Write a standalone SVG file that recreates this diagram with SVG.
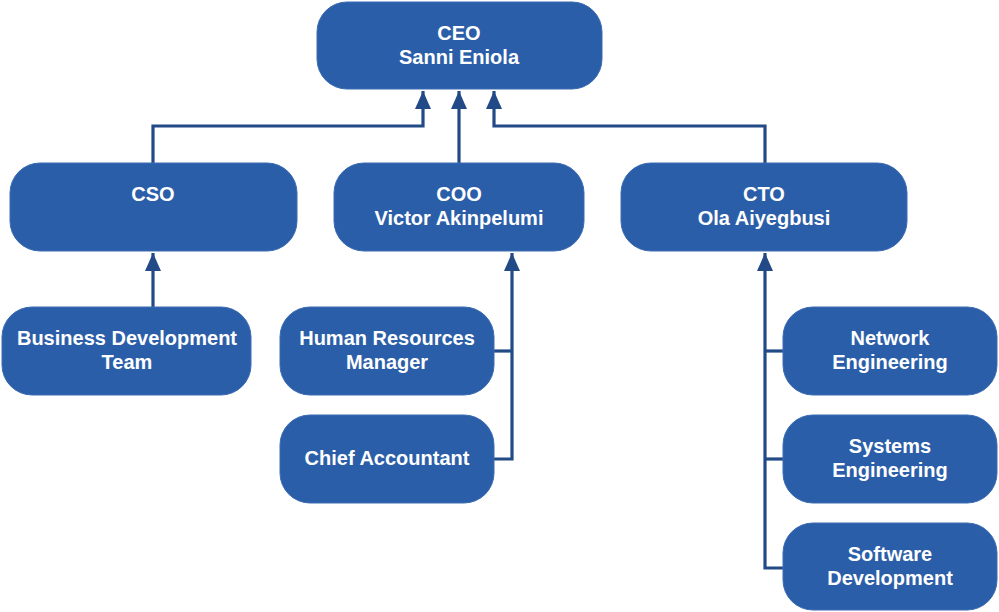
<svg xmlns="http://www.w3.org/2000/svg" width="999" height="612" viewBox="0 0 999 612">
<defs>
<style>
.node rect{fill:#2b5ea8;stroke:#3a6cb2;stroke-width:1}
.node text{fill:#ffffff;font-family:"Liberation Sans",Arial,sans-serif;font-weight:bold;font-size:20px;text-anchor:middle}
.conn path{fill:none;stroke:#224a86;stroke-width:3.2}
</style>
<marker id="arr" markerUnits="userSpaceOnUse" markerWidth="18" markerHeight="18" viewBox="0 0 18 16" refX="18" refY="8" orient="auto">
<path d="M0,0 L18,8 L0,16 Z" fill="#224a86"/>
</marker>
</defs>
<rect width="999" height="612" fill="#ffffff"/>
<g class="conn">
<path d="M153,163 V126 H423 V91" marker-end="url(#arr)"/>
<path d="M459,163 V91" marker-end="url(#arr)"/>
<path d="M765,163 V126 H494 V91" marker-end="url(#arr)"/>
<path d="M153,307 V253" marker-end="url(#arr)"/>
<path d="M494,459 H512 V253" marker-end="url(#arr)"/>
<path d="M494,351 H512"/>
<path d="M783,568 H765 V253" marker-end="url(#arr)"/>
<path d="M783,351 H765"/>
<path d="M783,459 H765"/>
</g>
<g id="ceo" class="node"><rect x="317" y="2" width="285" height="87" rx="30"/><text x="459" y="40">CEO</text><text x="459" y="64">Sanni Eniola</text></g>
<g id="cso" class="node"><rect x="10" y="163" width="287" height="88" rx="30"/><text x="153" y="201">CSO</text></g>
<g id="coo" class="node"><rect x="334" y="163" width="250" height="88" rx="30"/><text x="459" y="201">COO</text><text x="459" y="225">Victor Akinpelumi</text></g>
<g id="cto" class="node"><rect x="621" y="163" width="286" height="88" rx="30"/><text x="764" y="201">CTO</text><text x="764" y="225">Ola Aiyegbusi</text></g>
<g id="bdt" class="node"><rect x="2" y="307" width="249" height="88" rx="30"/><text x="127" y="345">Business Development</text><text x="127" y="369">Team</text></g>
<g id="hr" class="node"><rect x="280" y="307" width="214" height="88" rx="30"/><text x="387" y="345">Human Resources</text><text x="387" y="369">Manager</text></g>
<g id="ca" class="node"><rect x="280" y="415" width="214" height="88" rx="30"/><text x="387" y="465">Chief Accountant</text></g>
<g id="net" class="node"><rect x="783" y="307" width="214" height="88" rx="30"/><text x="890" y="345">Network</text><text x="890" y="369">Engineering</text></g>
<g id="sys" class="node"><rect x="783" y="415" width="214" height="88" rx="30"/><text x="890" y="453">Systems</text><text x="890" y="477">Engineering</text></g>
<g id="sw" class="node"><rect x="783" y="523" width="214" height="87" rx="30"/><text x="890" y="561">Software</text><text x="890" y="585">Development</text></g>
</svg>
